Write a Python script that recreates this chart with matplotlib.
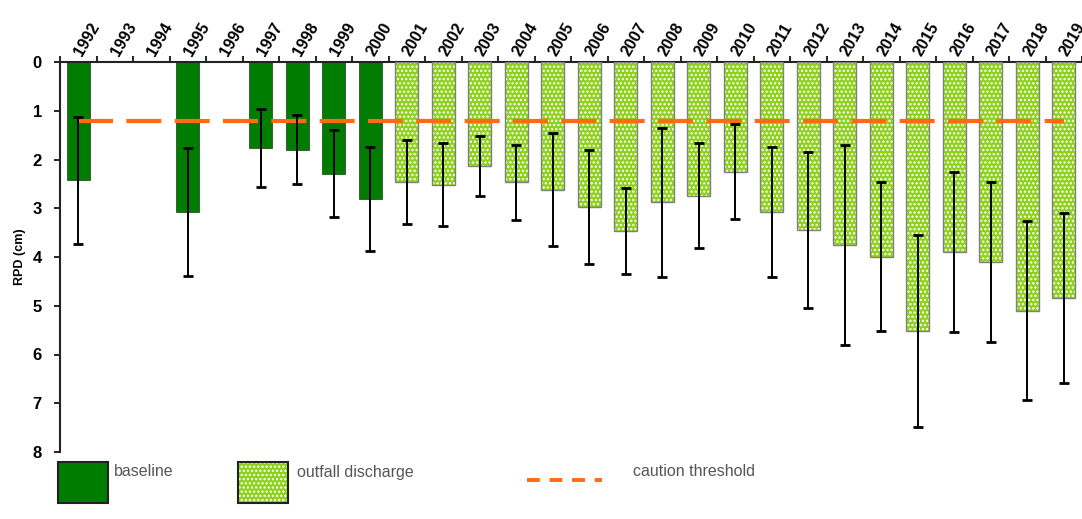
import matplotlib
matplotlib.use("Agg")
import matplotlib.pyplot as plt
from matplotlib.patches import Rectangle
from matplotlib.lines import Line2D
import numpy as np

years = [str(y) for y in range(1992, 2020)]
# RPD mean (cm); None = no data
rpd = [2.43, None, None, 3.08, None, 1.76, 1.80, 2.29, 2.81,
       2.47, 2.52, 2.13, 2.47, 2.62, 2.98, 3.46, 2.88, 2.74, 2.25,
       3.07, 3.44, 3.76, 3.99, 5.51, 3.89, 4.11, 5.10, 4.84]
err = [1.30, None, None, 1.31, None, 0.80, 0.71, 0.89, 1.07,
       0.86, 0.85, 0.62, 0.77, 1.16, 1.17, 0.88, 1.52, 1.07, 0.97,
       1.33, 1.60, 2.05, 1.52, 1.97, 1.64, 1.64, 1.84, 1.74]
period = ["baseline"] * 9 + ["outfall discharge"] * 19
threshold = 1.2

plt.rcParams['font.family'] = ['Liberation Sans', 'DejaVu Sans']
plt.rcParams['hatch.linewidth'] = 1.1

W, H = 1082, 519
fig = plt.figure(figsize=(W / 100, H / 100), dpi=100)
ax = fig.add_axes([60 / W, 1 - 452 / H, 1022 / W, 390 / H])

x = np.arange(len(years))
base_idx = [i for i in x if period[i] == "baseline" and rpd[i] is not None]
out_idx = [i for i in x if period[i] == "outfall discharge" and rpd[i] is not None]
bw = 0.62

GREEN = "#007d00"
LIGHT = "#8ed11c"

ax.bar(base_idx, [rpd[i] for i in base_idx], width=bw, color=GREEN,
       edgecolor="#1a3a1a", linewidth=0.5, zorder=2)
ax.bar(out_idx, [rpd[i] for i in out_idx], width=bw, color=LIGHT,
       edgecolor="white", hatch="....", linewidth=0, zorder=2)
ax.bar(out_idx, [rpd[i] for i in out_idx], width=bw, fill=False,
       edgecolor="#808080", linewidth=1.0, zorder=3)

idx = base_idx + out_idx
ax.errorbar(idx, [rpd[i] for i in idx], yerr=[err[i] for i in idx], fmt="none",
            ecolor="black", elinewidth=1.4, capsize=3.7, capthick=2.0, zorder=5)

ax.hlines(threshold, x[0], x[-1], color="#ff6a13", linewidth=3.0,
          linestyles=[(0, (8.4, 3.2))], zorder=4)

ax.set_xlim(-0.5, len(years) - 0.5)
ax.set_ylim(8, 0)
ax.spines["right"].set_visible(False)
ax.spines["bottom"].set_visible(False)
ax.spines["top"].set_linewidth(1.5)
ax.spines["left"].set_linewidth(1.5)
ax.spines["top"].set_color("#222222")
ax.spines["left"].set_color("#222222")

ax.xaxis.tick_top()
ax.set_xticks(x)
ax.set_xticklabels(years, rotation=60, ha="left", va="center",
                   rotation_mode="anchor", fontsize=11.5, fontweight="bold")
ax.tick_params(axis="x", which="major", length=0, pad=5)
ax.set_xticks(np.arange(-0.5, len(years), 1), minor=True)
ax.tick_params(axis="x", which="minor", length=4, width=1.2, direction="out")

ax.set_yticks(range(0, 9))
ax.set_yticklabels([str(v) for v in range(0, 9)], fontsize=12, fontweight="bold")
ax.tick_params(axis="y", length=4, width=1.2, direction="out", pad=9)
ax.set_ylabel("RPD (cm)", fontsize=9, fontweight="bold", labelpad=5)

# legend (figure coordinates)
def fx(px):
    return px / W

def fy(py):
    return 1 - py / H

fig.patches.append(Rectangle((fx(58), fy(503)), 50 / W, 41 / H, transform=fig.transFigure,
                             facecolor=GREEN, edgecolor="#222222", linewidth=1.5))
fig.patches.append(Rectangle((fx(238), fy(503)), 50 / W, 41 / H, transform=fig.transFigure,
                             facecolor=LIGHT, edgecolor="white", hatch="....", linewidth=0))
fig.patches.append(Rectangle((fx(238), fy(503)), 50 / W, 41 / H, transform=fig.transFigure,
                             fill=False, edgecolor="#222222", linewidth=1.5))
fig.lines.append(Line2D([fx(527), fx(602)], [fy(480), fy(480)], transform=fig.transFigure,
                        color="#ff6a13", linewidth=2.8, dashes=(3.3, 2.5)))
fig.text(fx(114), fy(472), "baseline", fontsize=11.5, color="#555555", va="center")
fig.text(fx(297), fy(472), "outfall discharge", fontsize=11.5, color="#555555", va="center")
fig.text(fx(633), fy(472), "caution threshold", fontsize=11.5, color="#555555", va="center")

fig.savefig("out.png", dpi=100)
